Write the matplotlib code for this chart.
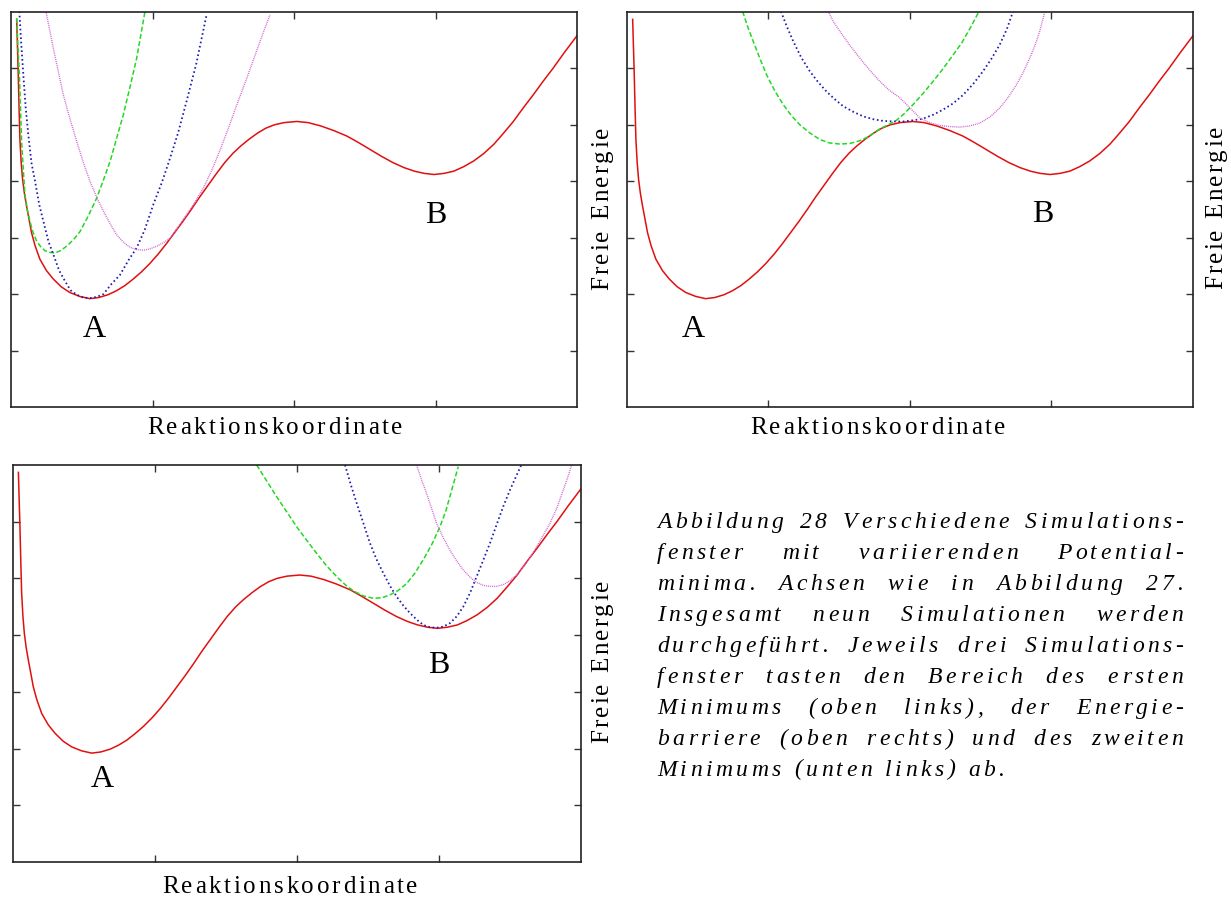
import matplotlib
matplotlib.use("Agg")
import matplotlib.pyplot as plt
from matplotlib.font_manager import FontProperties, findfont
from matplotlib.ft2font import FT2Font
from matplotlib.transforms import IdentityTransform

W, H, DPI = 1231, 898, 100
SERIF = "Liberation Serif"

# freie Energie entlang der Reaktionskoordinate (rote Kurve, in allen drei Feldern gleich)
red_x = [0.04, 0.046, 0.051, 0.057, 0.063, 0.072, 0.082, 0.095, 0.11, 0.125, 0.145,
         0.17, 0.204, 0.25, 0.298, 0.355, 0.415, 0.485, 0.556, 0.62, 0.686, 0.745,
         0.804, 0.86, 0.92, 0.98, 1.04, 1.1, 1.156, 1.215, 1.274, 1.33, 1.39, 1.45,
         1.51, 1.57, 1.626, 1.685, 1.74, 1.8, 1.86, 1.93, 2.02, 2.1, 2.19, 2.28,
         2.375, 2.46, 2.54, 2.62, 2.70, 2.78, 2.85, 2.92, 2.99, 3.06, 3.13, 3.2,
         3.27, 3.34, 3.41, 3.48, 3.55, 3.62, 3.69, 3.76, 3.83, 3.91, 4.0]
red_y = [6.87, 6.35, 5.91, 5.3, 4.74, 4.33, 4.03, 3.78, 3.56, 3.36, 3.09,
         2.86, 2.62, 2.42, 2.27, 2.13, 2.03, 1.96, 1.92, 1.94, 1.99, 2.06,
         2.15, 2.26, 2.39, 2.54, 2.71, 2.9, 3.09, 3.29, 3.5, 3.71, 3.92, 4.13,
         4.33, 4.5, 4.63, 4.75, 4.85, 4.94, 5.0, 5.04, 5.06, 5.04, 4.98, 4.9,
         4.8, 4.68, 4.56, 4.44, 4.33, 4.24, 4.18, 4.14, 4.12, 4.14, 4.18, 4.26,
         4.36, 4.49, 4.65, 4.85, 5.06, 5.3, 5.53, 5.77, 6.0, 6.28, 6.58]

# oben links: Fenster am ersten Minimum
tl_green_x = [0.04, 0.05, 0.059, 0.067, 0.075, 0.087, 0.099, 0.115, 0.134, 0.155,
              0.181, 0.21, 0.24, 0.275, 0.311, 0.35, 0.393, 0.44, 0.488, 0.545,
              0.605, 0.65, 0.70, 0.745, 0.794, 0.84, 0.888, 0.947]
tl_green_y = [6.89, 6.35, 5.89, 5.3, 4.71, 4.2, 3.76, 3.5, 3.29, 3.1,
              2.94, 2.84, 2.77, 2.74, 2.73, 2.77, 2.85, 2.96, 3.11, 3.38,
              3.70, 4.0, 4.35, 4.75, 5.18, 5.66, 6.18, 7.01]
tl_blue_x = [0.059, 0.072, 0.087, 0.104, 0.122, 0.145, 0.17, 0.2, 0.229, 0.265,
             0.30, 0.34, 0.382, 0.42, 0.464, 0.51, 0.558, 0.605, 0.653, 0.71,
             0.77, 0.83, 0.888, 0.945, 1.006, 1.065, 1.124, 1.18, 1.241, 1.31, 1.383]
tl_blue_y = [7.01, 6.45, 5.89, 5.3, 4.83, 4.32, 4.0, 3.58, 3.29, 2.93,
             2.70, 2.42, 2.23, 2.07, 1.99, 1.94, 1.93, 1.95, 2.0, 2.18,
             2.34, 2.6, 2.82, 3.14, 3.59, 3.97, 4.41, 4.85, 5.42, 6.09, 6.96]
tl_pink_x = [0.247, 0.27, 0.299, 0.333, 0.37, 0.415, 0.464, 0.51, 0.558, 0.605,
             0.653, 0.70, 0.747, 0.795, 0.841, 0.888, 0.935, 0.98, 1.03, 1.075,
             1.124, 1.18, 1.241, 1.3, 1.359, 1.42, 1.477, 1.535, 1.595, 1.655,
             1.713, 1.77, 1.83]
tl_pink_y = [7.01, 6.72, 6.36, 5.96, 5.53, 5.12, 4.71, 4.34, 4.0, 3.72,
             3.47, 3.25, 3.05, 2.92, 2.83, 2.79, 2.78, 2.8, 2.85, 2.91,
             2.99, 3.19, 3.41, 3.63, 3.88, 4.2, 4.55, 4.93, 5.35, 5.75,
             6.15, 6.55, 6.95]

# oben rechts: Fenster an der Barriere
tr_green_x = [0.817, 0.85, 0.892, 0.94, 0.986, 1.045, 1.104, 1.163, 1.222, 1.29,
              1.363, 1.43, 1.504, 1.575, 1.646, 1.715, 1.787, 1.845, 1.904, 1.96,
              2.022, 2.09, 2.163, 2.235, 2.305, 2.365, 2.422, 2.488]
tr_green_y = [7.01, 6.76, 6.48, 6.17, 5.89, 5.6, 5.36, 5.16, 5.0, 4.86,
              4.74, 4.68, 4.66, 4.67, 4.72, 4.8, 4.93, 5.0, 5.08, 5.2,
              5.36, 5.55, 5.77, 6.0, 6.24, 6.45, 6.7, 7.01]
tr_blue_x = [1.088, 1.13, 1.175, 1.23, 1.292, 1.35, 1.41, 1.47, 1.528, 1.6,
             1.669, 1.74, 1.81, 1.88, 1.951, 2.02, 2.093, 2.165, 2.234, 2.305,
             2.375, 2.445, 2.516, 2.575, 2.634, 2.685, 2.728]
tr_blue_y = [7.01, 6.74, 6.48, 6.2, 5.95, 5.76, 5.59, 5.45, 5.33, 5.23,
             5.15, 5.1, 5.07, 5.06, 5.06, 5.08, 5.11, 5.18, 5.27, 5.38,
             5.53, 5.72, 5.95, 6.17, 6.42, 6.7, 7.01]
tr_pink_x = [1.422, 1.46, 1.504, 1.575, 1.646, 1.715, 1.787, 1.855, 1.928, 2.0,
             2.07, 2.14, 2.21, 2.28, 2.352, 2.42, 2.493, 2.565, 2.634, 2.695,
             2.752, 2.8, 2.846, 2.885, 2.917, 2.953]
tr_pink_y = [7.01, 6.82, 6.66, 6.41, 6.18, 5.97, 5.77, 5.61, 5.48, 5.3,
             5.12, 5.04, 4.99, 4.97, 4.96, 4.98, 5.03, 5.14, 5.3, 5.49,
             5.71, 5.93, 6.18, 6.42, 6.66, 7.01]

# unten links: Fenster am zweiten Minimum
bl_green_x = [1.717, 1.79, 1.858, 1.93, 1.999, 2.07, 2.14, 2.21, 2.281, 2.34,
              2.398, 2.47, 2.539, 2.6, 2.656, 2.715, 2.773, 2.83, 2.89, 2.95,
              3.007, 3.05, 3.089, 3.136]
bl_green_y = [7.0, 6.71, 6.44, 6.17, 5.91, 5.67, 5.44, 5.22, 5.03, 4.89,
              4.78, 4.69, 4.65, 4.66, 4.71, 4.79, 4.91, 5.09, 5.33, 5.6,
              5.91, 6.2, 6.55, 6.97]
bl_blue_x = [2.339, 2.38, 2.421, 2.47, 2.515, 2.56, 2.609, 2.655, 2.702, 2.75,
             2.796, 2.845, 2.89, 2.935, 2.984, 3.03, 3.077, 3.125, 3.171, 3.22,
             3.265, 3.31, 3.359, 3.405, 3.453, 3.5, 3.547, 3.58]
bl_blue_y = [7.0, 6.65, 6.33, 5.96, 5.62, 5.34, 5.09, 4.87, 4.68, 4.52,
             4.39, 4.27, 4.18, 4.14, 4.13, 4.15, 4.21, 4.33, 4.5, 4.75,
             5.03, 5.31, 5.62, 5.94, 6.27, 6.56, 6.82, 7.0]
bl_pink_x = [2.843, 2.878, 2.913, 2.95, 2.984, 3.03, 3.077, 3.125, 3.171, 3.22,
             3.265, 3.31, 3.359, 3.405, 3.453, 3.5, 3.547, 3.605, 3.664, 3.72,
             3.781, 3.83, 3.875, 3.905, 3.934]
bl_pink_y = [7.0, 6.74, 6.5, 6.22, 5.97, 5.72, 5.5, 5.31, 5.15, 5.02,
             4.93, 4.88, 4.86, 4.86, 4.89, 4.96, 5.06, 5.24, 5.46, 5.7,
             5.97, 6.24, 6.56, 6.77, 7.0]

# Lage der Buchstaben A und B je Feld
label_a = [(0.59, 1.38), (0.47, 1.38), (0.63, 1.45)]
label_b = [(3.0, 3.40), (2.94, 3.41), (3.0, 3.47)]

caption = [
    "Abbildung 28 Verschiedene Simulations-",
    "fenster mit variierenden Potential-",
    "minima. Achsen wie in Abbildung 27.",
    "Insgesamt neun Simulationen werden",
    "durchgeführt. Jeweils drei Simulations-",
    "fenster tasten den Bereich des ersten",
    "Minimums (oben links), der Energie-",
    "barriere (oben rechts) und des zweiten",
    "Minimums (unten links) ab.",
]

fig = plt.figure(figsize=(W / DPI, H / DPI), dpi=DPI)

_fonts = {}


def advances(text, size, italic=False):
    key = (size, italic)
    if key not in _fonts:
        prop = FontProperties(family=SERIF, style="italic" if italic else "normal")
        font = FT2Font(findfont(prop))
        font.set_size(size, DPI)
        _fonts[key] = font
    font = _fonts[key]
    return [font.load_char(ord(c)).linearHoriAdvance / 65536 for c in text]


def spaced(x, y, text, size, track, italic=False, rotation=0):
    # x, y = Anfang der Grundlinie in Pixeln von oben links
    pos = 0.0
    for c, a in zip(text, advances(text, size, italic)):
        if c != " ":
            if rotation == 90:
                px, py = x, y - pos
            else:
                px, py = x + pos, y
            fig.text(px, H - py, c, transform=IdentityTransform(), fontsize=size,
                     family=SERIF, style="italic" if italic else "normal",
                     ha="left", va="baseline", rotation=rotation,
                     rotation_mode="anchor")
        pos += a + track
    return pos - track


def word_width(word, size, track, italic):
    return sum(advances(word, size, italic)) + track * (len(word) - 1)


def justified(x0, x1, y, line, size, track, justify=True):
    words = line.split(" ")
    widths = [word_width(w, size, track, True) for w in words]
    if justify and len(words) > 1:
        gap = (x1 - x0 - sum(widths)) / (len(words) - 1)
    else:
        gap = advances(" ", size, True)[0] + 2 * track
    x = x0
    for w, wd in zip(words, widths):
        spaced(x, y, w, size, track, italic=True)
        x += wd + gap


def panel(box, windows, a_pos, b_pos):
    left, top, right, bottom = box
    ax = fig.add_axes([left / W, 1 - bottom / H, (right - left) / W, (bottom - top) / H])
    ax.plot(red_x, red_y, color="#e01010", lw=1.1, solid_joinstyle="round")
    (gx, gy), (bx, by), (mx, my) = windows
    ax.plot(gx, gy, color="#22d822", lw=1.1, ls=(0, (3.2, 1.6)))
    ax.plot(bx, by, color="#1c1cb0", lw=1.3, ls=(0, (0.9, 1.5)))
    ax.plot(mx, my, color="#d264d2", lw=1.0, ls=(0, (0.7, 0.7)))
    ax.text(*a_pos, "A", fontsize=23, family=SERIF, ha="center", va="center")
    ax.text(*b_pos, "B", fontsize=23, family=SERIF, ha="center", va="center")
    ax.set_xlim(0, 4)
    ax.set_ylim(0, 7)
    ax.set_xticks([1, 2, 3])
    ax.set_yticks([1, 2, 3, 4, 5, 6])
    ax.tick_params(direction="in", length=5, width=1, color="#333333",
                   top=True, right=True, labelbottom=False, labelleft=False)
    for sp in ax.spines.values():
        sp.set_linewidth(1.2)
        sp.set_color("#222222")
    return ax


panel((11, 12, 577, 407),
      [(tl_green_x, tl_green_y), (tl_blue_x, tl_blue_y), (tl_pink_x, tl_pink_y)],
      label_a[0], label_b[0])
panel((627, 12, 1193, 407),
      [(tr_green_x, tr_green_y), (tr_blue_x, tr_blue_y), (tr_pink_x, tr_pink_y)],
      label_a[1], label_b[1])
panel((12.7, 465, 581, 862),
      [(bl_green_x, bl_green_y), (bl_blue_x, bl_blue_y), (bl_pink_x, bl_pink_y)],
      label_a[2], label_b[2])

# Achsenbeschriftungen, gesperrt gesetzt
spaced(147, 434, "Reaktionskoordinate", 18, 2.7)
spaced(750, 434, "Reaktionskoordinate", 18, 2.7)
spaced(162, 893, "Reaktionskoordinate", 18, 2.7)
spaced(608, 290, "Freie Energie", 18, 2.3, rotation=90)
spaced(1222, 289, "Freie Energie", 18, 2.3, rotation=90)
spaced(608, 743, "Freie Energie", 18, 2.3, rotation=90)

# Bildunterschrift im Blocksatz
for i, line in enumerate(caption):
    justified(657, 1183, 528.3 + i * 30.9, line, 17, 3.5,
              justify=(i < len(caption) - 1))

fig.savefig("out.png", dpi=DPI)
